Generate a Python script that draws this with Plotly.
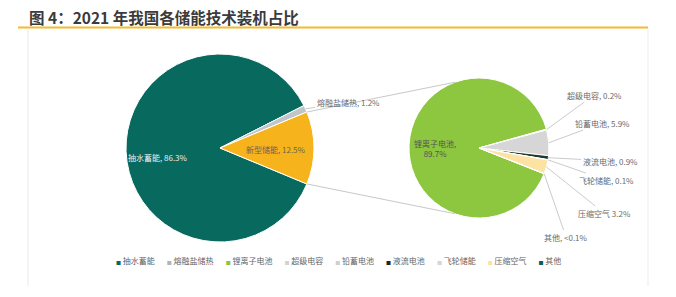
import math
import plotly.graph_objects as go

W, H = 676, 297

# ---------------- data ----------------
main_labels = ["抽水蓄能", "熔融盐储热", "新型储能"]
main_values = [86.3, 1.2, 12.5]
main_pct = ["86.3%", "1.2%", "12.5%"]
main_colors = ["#08695F", "#BFC5C9", "#F6B31C"]

sub_labels = ["锂离子电池", "超级电容", "铅蓄电池", "液流电池", "飞轮储能", "压缩空气", "其他"]
sub_values = [89.7, 0.2, 5.9, 0.9, 0.1, 3.2, 0.05]
sub_pct = ["89.7%", "0.2%", "5.9%", "0.9%", "0.1%", "3.2%", "<0.1%"]
sub_colors = ["#8DC63F", "#E6E6E6", "#D6D6D6", "#1E3A2B", "#EDEDED", "#FDE3A3", "#0B5E55"]

legend_labels = ["抽水蓄能", "熔融盐储热", "锂离子电池", "超级电容", "铅蓄电池",
                 "液流电池", "飞轮储能", "压缩空气", "其他"]
legend_colors = ["#08695F", "#AEB6BB", "#8DC63F", "#D3D3D3", "#CFCFCF",
                 "#1E2A22", "#D6D6D6", "#FDE3A3", "#0B5E55"]

title_text = "图 4：2021 年我国各储能技术装机占比"

# ---------------- geometry helpers ----------------
FONT = "Noto Sans CJK SC"


def px(x):
    return x / W


def py(y):
    return 1 - y / H


main_c, main_r = (220, 148), 94
sub_c, sub_r = (479, 148), 70

# main pie: new-type slice centred at 3 o'clock
main_tot = sum(main_values)
main_rot = 90 + main_values[2] / main_tot * 360 / 2
# sub pie: small slices grouped just below 3 o'clock
sub_tot = sum(sub_values)
small_ang = (sub_tot - sub_values[0]) / sub_tot * 360
sub_rot = 93 + small_ang / 2


def mid_point(values, rot, idx, c, r, frac=1.0):
    tot = sum(values)
    start = rot + sum(values[:idx]) / tot * 360
    mid = start + values[idx] / tot * 360 / 2
    a = math.radians(mid)
    return c[0] + r * frac * math.sin(a), c[1] - r * frac * math.cos(a)


fig = go.Figure()

fig.add_trace(go.Pie(
    labels=main_labels, values=main_values, sort=False, direction="clockwise",
    rotation=main_rot, textinfo="none", showlegend=False,
    marker=dict(colors=main_colors, line=dict(color="white", width=1)),
    domain=dict(x=[px(main_c[0] - main_r), px(main_c[0] + main_r)],
                y=[py(main_c[1] + main_r), py(main_c[1] - main_r)]),
))
fig.add_trace(go.Pie(
    labels=sub_labels, values=sub_values, sort=False, direction="clockwise",
    rotation=sub_rot, textinfo="none", showlegend=False,
    marker=dict(colors=sub_colors, line=dict(color="white", width=1)),
    domain=dict(x=[px(sub_c[0] - sub_r), px(sub_c[0] + sub_r)],
                y=[py(sub_c[1] + sub_r), py(sub_c[1] - sub_r)]),
))

shapes = []
# title underline
shapes.append(dict(type="line", xref="paper", yref="paper", x0=px(18), x1=px(648),
                   y0=py(27.5), y1=py(27.5), line=dict(color="#F3BC2C", width=2.2)))
# frame verticals
for xv in (28, 648):
    shapes.append(dict(type="line", xref="paper", yref="paper", x0=px(xv), x1=px(xv),
                       y0=py(29), y1=py(286), line=dict(color="#EBEBEB", width=1)))

# connector lines between the new-type slice and the secondary pie
half = main_values[2] / main_tot * 360 / 2
for sgn, ang2 in ((1, 110), (-1, 250)):
    a1 = math.radians(sgn * half)
    x1 = main_c[0] + main_r * math.cos(a1)
    y1 = main_c[1] - main_r * math.sin(a1)
    a2 = math.radians(ang2)
    x2 = sub_c[0] + sub_r * math.cos(a2)
    y2 = sub_c[1] - sub_r * math.sin(a2)
    shapes.append(dict(type="line", xref="paper", yref="paper", x0=px(x1), y0=py(y1),
                       x1=px(x2), y1=py(y2), line=dict(color="#C8C8C8", width=1)))

annotations = []
annotations.append(dict(text="<b>" + title_text + "</b>", x=px(27), y=py(17), xref="paper", yref="paper",
                        xanchor="left", yanchor="middle", showarrow=False,
                        font=dict(family=FONT, size=15.5, color="#3B3B3B")))

# inside labels
annotations.append(dict(text=f"{main_labels[0]}, {main_pct[0]}", x=px(158), y=py(157),
                        xref="paper", yref="paper", showarrow=False, xanchor="center",
                        font=dict(family=FONT, size=8, color="#EEEEEE")))
annotations.append(dict(text=f"{main_labels[2]}, {main_pct[2]}", x=px(276), y=py(149),
                        xref="paper", yref="paper", showarrow=False, xanchor="center",
                        font=dict(family=FONT, size=8, color="#6E6450")))
annotations.append(dict(text=f"{sub_labels[0]},<br>{sub_pct[0]}", x=px(435), y=py(148),
                        xref="paper", yref="paper", showarrow=False, xanchor="center",
                        font=dict(family=FONT, size=8, color="#555555")))


# outside labels with leader lines
def outside(text, tx, ty, values, rot, idx, c, r):
    hx, hy = mid_point(values, rot, idx, c, r)
    annotations.append(dict(text=text, x=px(hx), y=py(hy), xref="paper", yref="paper",
                            ax=tx - hx, ay=ty - hy, showarrow=True, arrowhead=0,
                            arrowwidth=0.8, arrowcolor="#BDBDBD", standoff=0,
                            font=dict(family=FONT, size=8, color="#6B6B6B")))


outside(f"{main_labels[1]}, {main_pct[1]}", 348, 103, main_values, main_rot, 1, main_c, main_r)
sub_pos = {1: (594, 95), 2: (602, 123), 3: (610, 161), 4: (606, 180), 5: (604, 213), 6: (566, 237)}
for i, (tx, ty) in sub_pos.items():
    sep = " " if sub_labels[i] == "压缩空气" else ", "
    outside(f"{sub_labels[i]}{sep}{sub_pct[i]}", tx, ty, sub_values, sub_rot, i, sub_c, sub_r)

# legend row
items = [f"<span style='color:{c};font-size:5px'>■</span> {l}" for l, c in zip(legend_labels, legend_colors)]
annotations.append(dict(text="\u2003\u2002".join(items), x=px(338), y=py(268), xref="paper", yref="paper",
                        xanchor="center", showarrow=False,
                        font=dict(family=FONT, size=8, color="#666666")))

fig.update_layout(width=W, height=H, margin=dict(l=0, r=0, t=0, b=0),
                  paper_bgcolor="white", plot_bgcolor="white",
                  shapes=shapes, annotations=annotations, showlegend=False)

fig.write_html("out.html")
